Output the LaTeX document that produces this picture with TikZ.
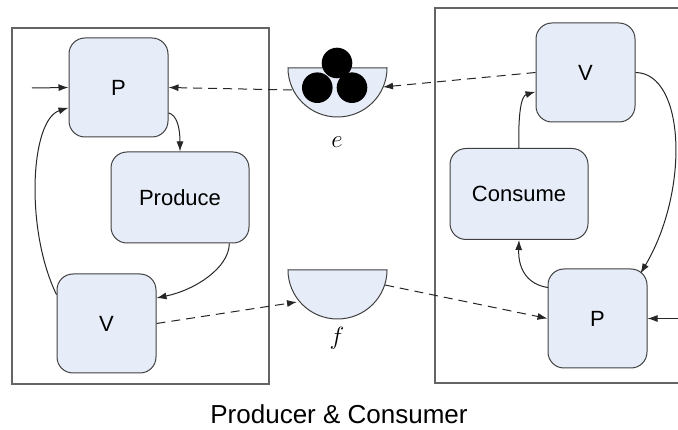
\documentclass[tikz,border=0pt]{standalone}
\usepackage{fontspec}
\setmainfont{Liberation Sans}
\usetikzlibrary{arrows.meta,calc}
\definecolor{boxfill}{RGB}{230,236,248}
\definecolor{boxline}{RGB}{64,64,64}
\definecolor{framegray}{RGB}{100,100,100}
\begin{document}
\begin{tikzpicture}[x=1pt,y=-1pt,
  box/.style={draw=boxline, fill=boxfill, rounded corners=16pt, line width=1pt, font=\fontsize{22}{26}\selectfont, inner sep=0pt},
  sq/.style={box, minimum width=99pt, minimum height=99pt},
  wide/.style={box, minimum width=138pt, minimum height=91pt},
  conn/.style={-{Latex[length=10pt,width=7pt]}, line width=1pt, draw=black!85},
  dconn/.style={conn, dash pattern=on 9pt off 6pt},
  frame/.style={draw=framegray, line width=1.4pt},
  bowl/.style={draw=boxline, fill=boxfill, line width=1pt},
  lbl/.style={font=\fontsize{24}{28}\selectfont, inner sep=0pt}
]
\useasboundingbox (0,0) rectangle (678,430);
% frames
\draw[frame] (12,28) rectangle (269,384);
\draw[frame] (690,8) -- (435,8) -- (435,383) -- (690,383);
% left nodes
\node[sq] (lP) at (118.5,87.5) {P};
\node[wide] (prod) at (180,197.5) {Produce};
\node[sq] (lV) at (106.5,323.5) {V};
% right nodes
\node[sq] (rV) at (585.5,72.5) {V};
\node[wide] (cons) at (519,194) {Consume};
\node[sq] (rP) at (597.5,318.5) {P};
% bowls
\draw[bowl] (288,68) -- (387,68) arc[start angle=0, end angle=-180, x radius=49.5pt, y radius=49pt] -- cycle;
\fill (337,63) circle[radius=15.3pt];
\fill (317.3,87.7) circle[radius=15.3pt];
\fill (352,87.7) circle[radius=15.3pt];
\draw[bowl] (288,270) -- (387,270) arc[start angle=0, end angle=-180, x radius=49.5pt, y radius=49pt] -- cycle;
\node[lbl] (elbl) at (337,142) {$e$};
\node[lbl] (flbl) at (337,338) {$f$};
% connection points
\coordinate (inL) at (32,88);
\coordinate (inR) at (678,318.5);
\coordinate (eR) at (383,87);
\coordinate (eL) at (292,90);
\coordinate (fL) at (297,302);
\coordinate (fR) at (385,285);
% left connectors
\draw[conn] (inL) -- (lP.west);
\draw[conn] (lV.150) .. controls (25,230) and (30,120) .. (lP.202);
\draw[conn] (lP.-27) .. controls (177,115) and (180,128) .. (prod.north);
\draw[conn] (prod.-43) .. controls (229,268) and (195,290) .. (lV.27);
% dashed
\draw[dconn] (eL) -- (lP.east);
\draw[dconn] (rV.west) -- (eR);
\draw[dconn] (lV.east) -- (fL);
\draw[dconn] (fR) -- (rP.west);
% right connectors
\draw[conn] (inR) -- (rP.east);
\draw[conn] (cons.north) .. controls (518,115) and (521,96) .. (rV.201);
\draw[conn] (rV.east) .. controls (685,73) and (690,190) .. ($(rP.center)+(43,-45)$);
\draw[conn] ($(rP.center)+(-49.5,-31)$) .. controls (530,285) and (518,272) .. (cons.south);
% title
\node[font=\fontsize{26}{30}\selectfont, inner sep=0pt] (title) at (339,414) {Producer \& Consumer};
\end{tikzpicture}
\end{document}
